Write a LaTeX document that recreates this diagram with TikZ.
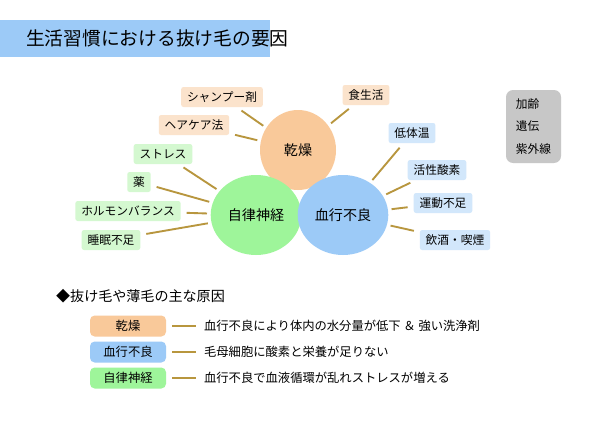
\documentclass[tikz,border=0pt]{standalone}
\usepackage{fontspec}
\setmainfont{Noto Sans CJK JP}
\usepackage{tikz}
\definecolor{drycol}{HTML}{F9C99A}
\definecolor{bloodcol}{HTML}{9CCAF7}
\definecolor{nervecol}{HTML}{9EF59A}
\definecolor{drylt}{HTML}{FBE3CC}
\definecolor{bloodlt}{HTML}{D2E7FB}
\definecolor{nervelt}{HTML}{D4F8D0}
\definecolor{linkcol}{HTML}{B8963E}
\tikzset{
  circ/.style={ellipse, minimum width=76\px, minimum height=80\px, font=\fontsize{12}{14}\selectfont},
  leaf/.style={rounded corners=2pt, minimum height=20\px, inner xsep=5pt, font=\fontsize{10}{12}\selectfont},
  link/.style={linkcol, line width=1.6pt, shorten <=5pt, shorten >=3pt},
  keybox/.style={rounded corners=4pt, minimum width=76\px, minimum height=21\px, font=\fontsize{10.5}{12}\selectfont},
}
\newlength{\px}
\setlength{\px}{0.03cm}
\usetikzlibrary{shapes.geometric}
\begin{document}
\begin{tikzpicture}[x=0.03cm, y=-0.03cm]
\useasboundingbox[fill=white] (0,0) rectangle (600,424);
% title
\fill[bloodcol] (0,20) rectangle (270,57);
\node[anchor=west, font=\fontsize{16}{18}\selectfont] (title) at (22,38.5) {生活習慣における抜け毛の要因};
% main causes
\node[circ, fill=drycol] (dry) at (298,150) {乾燥};
\node[circ, fill=nervecol] (nerve) at (256,215) {自律神経};
\node[circ, fill=bloodcol] (blood) at (343,215) {血行不良};
% leaves
\node[leaf, fill=drylt] (shampoo) at (222,97) {シャンプー剤};
\node[leaf, fill=drylt] (food) at (366,95) {食生活};
\node[leaf, fill=drylt] (care) at (194,125) {ヘアケア法};
\node[leaf, fill=nervelt] (stress) at (163,154) {ストレス};
\node[leaf, fill=nervelt] (drug) at (139,182) {薬};
\node[leaf, fill=nervelt] (hormone) at (128,211) {ホルモンバランス};
\node[leaf, fill=nervelt] (sleep) at (111,240) {睡眠不足};
\node[leaf, fill=bloodlt] (lowtemp) at (412,133) {低体温};
\node[leaf, fill=bloodlt] (oxygen) at (437,170) {活性酸素};
\node[leaf, fill=bloodlt] (exercise) at (443,203) {運動不足};
\node[leaf, fill=bloodlt] (drink) at (455,240) {飲酒・喫煙};
\node[rounded corners=6pt, fill=black!22, minimum width=55\px, minimum height=73\px, align=left,
  font=\fontsize{10}{19}\selectfont] (other) at (533.5,126.5) {加齢\\遺伝\\紫外線};
\foreach \a/\b in {shampoo/dry, care/dry, food/dry, stress/nerve, drug/nerve, hormone/nerve,
  sleep/nerve, lowtemp/blood, oxygen/blood, exercise/blood, drink/blood}
  \draw[link] (\a) -- (\b);
% main reasons
\node[anchor=west, font=\fontsize{12}{14}\selectfont] (head) at (52,296) {◆抜け毛や薄毛の主な原因};
\node[keybox, fill=drycol] (kdry) at (128,326) {乾燥};
\node[keybox, fill=bloodcol] (kblood) at (128,352) {血行不良};
\node[keybox, fill=nervecol] (knerve) at (128,378) {自律神経};
\node[anchor=west, font=\fontsize{10.5}{12}\selectfont] (tdry) at (200,326) {血行不良により体内の水分量が低下 ＆ 強い洗浄剤};
\node[anchor=west, font=\fontsize{10.5}{12}\selectfont] (tblood) at (200,352) {毛母細胞に酸素と栄養が足りない};
\node[anchor=west, font=\fontsize{10.5}{12}\selectfont] (tnerve) at (200,378) {血行不良で血液循環が乱れストレスが増える};
\foreach \a/\b in {kdry/tdry, kblood/tblood, knerve/tnerve}
  \draw[linkcol, line width=1.2pt, shorten <=5pt, shorten >=3pt] (\a) -- (\b);
\end{tikzpicture}
\end{document}
